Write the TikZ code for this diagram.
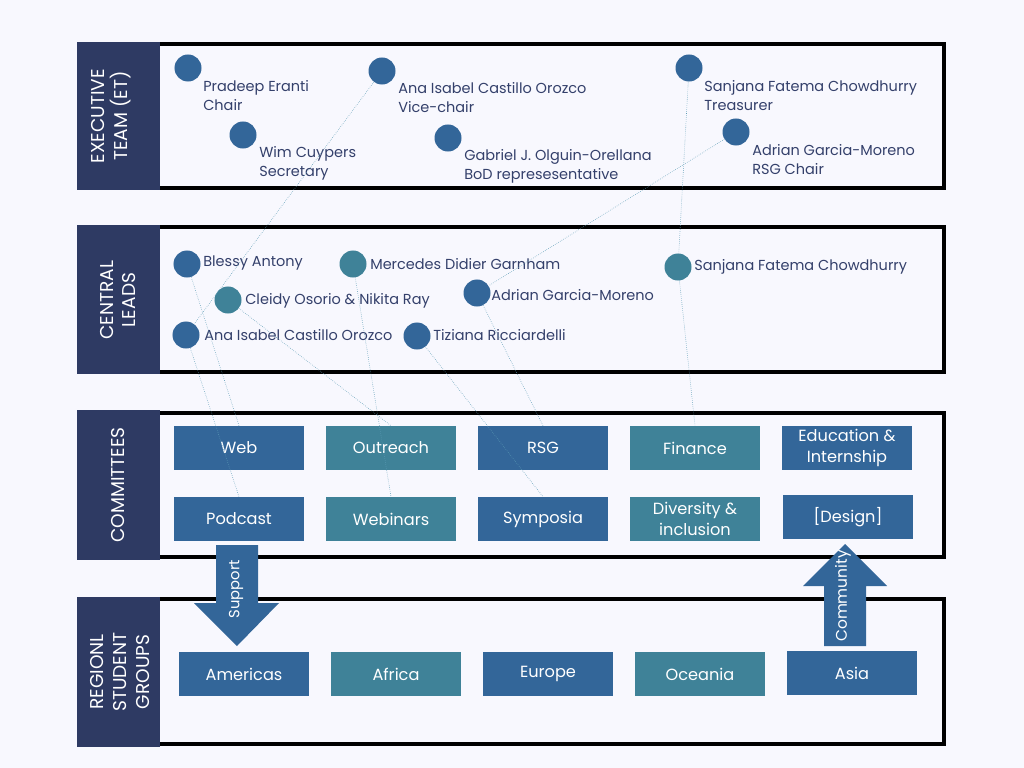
\documentclass[tikz,border=0pt]{standalone}
\usepackage{fontspec}
\setmainfont{Poppins}
\definecolor{bg}{HTML}{F8F8FE}
\definecolor{navy}{HTML}{2E3A63}
\definecolor{blu}{HTML}{336699}
\definecolor{tea}{HTML}{3F8298}
\definecolor{ink}{HTML}{34406B}
\definecolor{linkc}{HTML}{5B9BB5}
\tikzset{
  side/.style={text=white,rotate=90,align=center,inner sep=0pt,font=\fontsize{13.2}{16.3}\selectfont},
  dot/.style={circle,fill=#1,minimum size=0.675cm,inner sep=0pt},
  who/.style={anchor=west,inner sep=0pt,text=ink,align=left,font=\fontsize{10.3}{13.5}\selectfont},
  group/.style={fill=#1,text=white,minimum width=3.25cm,minimum height=1.1cm,inner sep=0pt,align=center,font=\fontsize{11.5}{15.5}\selectfont},
  link/.style={draw=linkc,densely dotted,line width=0.4pt},
  frame/.style={line width=2.8pt}
}
\begin{document}
\begin{tikzpicture}[x=0.025cm,y=-0.025cm]
  \fill[bg] (0,0) rectangle (1024,768);

  \draw[frame] (150,44) rectangle (944,188);
  \draw[frame] (150,227) rectangle (944,372);
  \draw[frame] (150,413) rectangle (944,557);
  \draw[frame] (150,599) rectangle (944,744);
  \fill[navy] (77,42) rectangle (160,190);
  \fill[navy] (77,225) rectangle (160,374);
  \fill[navy] (77,410) rectangle (160,560);
  \fill[navy] (77,597) rectangle (160,747);
  \node[side] (sideET) at (111,116) {EXECUTIVE\\TEAM (ET)};
  \node[side] (sideCL) at (118,300) {CENTRAL\\LEADS};
  \node[side] (sideCO) at (118,485) {COMMITTEES};
  \node[side] (sideRS) at (120,672) {REGIONL\\STUDENT\\GROUPS};

  \node[dot=blu] (etPradeep) at (188,68) {};
  \node[who] (tPradeep) at (203,96) {Pradeep Eranti\\Chair};
  \node[dot=blu] (etWim) at (243,135) {};
  \node[who] (tWim) at (259,163) {Wim Cuypers\\Secretary};
  \node[dot=blu] (etAna) at (382,71) {};
  \node[who] (tAna) at (398,98) {Ana Isabel Castillo Orozco\\Vice-chair};
  \node[dot=blu] (etGabriel) at (448,138) {};
  \node[who] (tGabriel) at (464,166) {Gabriel J. Olguin-Orellana\\BoD represesentative};
  \node[dot=blu] (etSanjana) at (689,68) {};
  \node[who] (tSanjana) at (704,96) {Sanjana Fatema Chowdhurry\\Treasurer};
  \node[dot=blu] (etAdrian) at (736,132) {};
  \node[who] (tAdrian) at (752,160) {Adrian Garcia-Moreno\\RSG Chair};

  \node[dot=blu] (clBlessy) at (187,264) {};
  \node[who] (tBlessy) at (203,263) {Blessy Antony};
  \node[dot=tea] (clMercedes) at (353,264) {};
  \node[who] (tMercedes) at (370,264) {Mercedes Didier Garnham};
  \node[dot=tea] (clCleidy) at (228,300) {};
  \node[who] (tCleidy) at (245,301) {Cleidy Osorio \& Nikita Ray};
  \node[dot=blu] (clAdrian) at (477,293) {};
  \node[who] (tAdrianCL) at (491,295) {Adrian Garcia-Moreno};
  \node[dot=blu] (clAna) at (186,335) {};
  \node[who] (tAnaCL) at (204,335) {Ana Isabel Castillo Orozco};
  \node[dot=blu] (clTiziana) at (417,336) {};
  \node[who] (tTiziana) at (433,335) {Tiziana Ricciardelli};
  \node[dot=tea] (clSanjana) at (678,267) {};
  \node[who] (tSanjanaCL) at (694,267) {Sanjana Fatema Chowdhurry};

  \node[group=blu] (web) at (239,448) {Web};
  \node[group=tea] (outreach) at (391,448) {Outreach};
  \node[group=blu] (rsg) at (543,448) {RSG};
  \node[group=tea] (finance) at (695,448) {Finance};
  \node[group=blu] (edu) at (847,448) {Education \&\\Internship};
  \node[group=blu] (podcast) at (239,519) {Podcast};
  \node[group=tea] (webinars) at (391,519) {Webinars};
  \node[group=blu] (symposia) at (543,519) {Symposia};
  \node[group=tea] (diversity) at (695,519) {Diversity \&\\inclusion};
  \node[group=blu] (design) at (848,517) {[Design]};

  \node[group=blu] (americas) at (244,674) {Americas};
  \node[group=tea] (africa) at (396,674) {Africa};
  \node[group=blu] (europe) at (548,674) {Europe};
  \node[group=tea] (oceania) at (700,674) {Oceania};
  \node[group=blu] (asia) at (852,673) {Asia};

  \fill[blu] (216,545) -- (258,545) -- (258,603) -- (279,603) -- (237,646) -- (194,603) -- (216,603) -- cycle;
  \node[side,font=\fontsize{10.5}{13}\selectfont] (support) at (236,589) {Support};
  \fill[blu] (824,646) -- (866,646) -- (866,586) -- (887,586) -- (845,544) -- (803,586) -- (824,586) -- cycle;
  \node[side,font=\fontsize{11}{13}\selectfont] (community) at (843,596) {Community};

  \draw[link] (etAna) -- (clAna);
  \draw[link] (etSanjana) -- (clSanjana);
  \draw[link] (etAdrian) -- (clAdrian);
  \draw[link] (clBlessy) -- (web.north);
  \draw[link] (clAna) -- (podcast.north);
  \draw[link] (clCleidy) -- (outreach.north);
  \draw[link] (clMercedes) -- (webinars.north);
  \draw[link] (clTiziana) -- (symposia.north);
  \draw[link] (clAdrian) -- (rsg.north);
  \draw[link] (clSanjana) -- (finance.north);
\end{tikzpicture}
\end{document}
